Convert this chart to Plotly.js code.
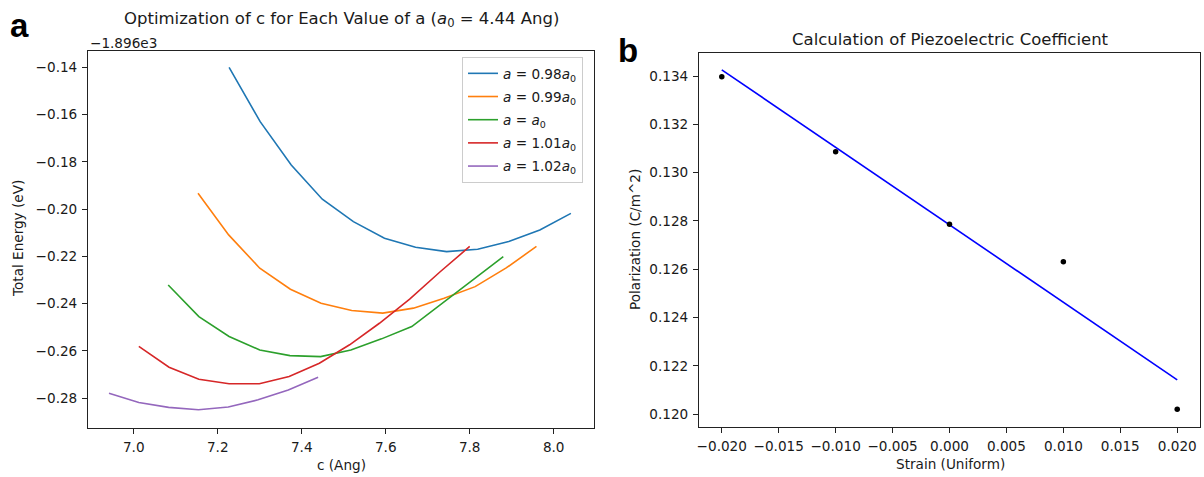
<!DOCTYPE html>
<html>
<head>
<meta charset="utf-8">
<script src="https://cdn.plot.ly/plotly-3.0.1.min.js"></script>
<style>html,body{margin:0;padding:0;background:#fff;}#chart{width:1204px;height:477px;}</style>
</head>
<body>
<div id="chart"></div>
<script>
// ---- Panel a: total energy vs c for each a ----
const energyOffset = -1896; // shown as "−1.896e3" axis offset
const c_098 = [7.227, 7.301, 7.375, 7.449, 7.523, 7.597, 7.671, 7.745, 7.819, 7.893, 7.967, 8.041];
const e_098 = [-1896.1400, -1896.1630, -1896.1813, -1896.1958, -1896.2053, -1896.2123, -1896.2161, -1896.2180, -1896.2170, -1896.2137, -1896.2088, -1896.2018];
const c_099 = [7.153, 7.226, 7.300, 7.373, 7.446, 7.519, 7.593, 7.666, 7.739, 7.813, 7.886, 7.959];
const e_099 = [-1896.1933, -1896.2109, -1896.2250, -1896.2339, -1896.2398, -1896.2429, -1896.2440, -1896.2419, -1896.2377, -1896.2328, -1896.2250, -1896.2158];
const c_100 = [7.082, 7.155, 7.227, 7.300, 7.372, 7.445, 7.517, 7.590, 7.662, 7.735, 7.807, 7.880];
const e_100 = [-1896.2321, -1896.2455, -1896.2539, -1896.2596, -1896.2620, -1896.2624, -1896.2596, -1896.2549, -1896.2497, -1896.2398, -1896.2300, -1896.2201];
const c_101 = [7.012, 7.084, 7.155, 7.227, 7.299, 7.370, 7.442, 7.514, 7.585, 7.657, 7.729, 7.800];
const e_101 = [-1896.2581, -1896.2669, -1896.2720, -1896.2739, -1896.2739, -1896.2708, -1896.2652, -1896.2574, -1896.2483, -1896.2381, -1896.2266, -1896.2158];
const c_102 = [6.941, 7.012, 7.083, 7.154, 7.225, 7.296, 7.368, 7.439];
const e_102 = [-1896.2779, -1896.2818, -1896.2839, -1896.2849, -1896.2837, -1896.2807, -1896.2765, -1896.2711];
const seriesLabels = [
  '<i>a</i> = 0.98<i>a</i><sub>0</sub>',
  '<i>a</i> = 0.99<i>a</i><sub>0</sub>',
  '<i>a</i> = <i>a</i><sub>0</sub>',
  '<i>a</i> = 1.01<i>a</i><sub>0</sub>',
  '<i>a</i> = 1.02<i>a</i><sub>0</sub>'
];
const xTicksA = [7.0, 7.2, 7.4, 7.6, 7.8, 8.0];
const yTicksA = [-0.28, -0.26, -0.24, -0.22, -0.20, -0.18, -0.16, -0.14];

// ---- Panel b: polarization vs strain ----
const strain = [-0.02, -0.01, 0.0, 0.01, 0.02];
const polarization = [0.13397, 0.13087, 0.12786, 0.12631, 0.12020];
const xTicksB = [-0.020, -0.015, -0.010, -0.005, 0.000, 0.005, 0.010, 0.015, 0.020];
const yTicksB = [0.120, 0.122, 0.124, 0.126, 0.128, 0.130, 0.132, 0.134];

// least-squares fit line
const n = strain.length;
const mx = strain.reduce((s, v) => s + v, 0) / n;
const my = polarization.reduce((s, v) => s + v, 0) / n;
let sxy = 0, sxx = 0;
for (let i = 0; i < n; i++) { sxy += (strain[i] - mx) * (polarization[i] - my); sxx += (strain[i] - mx) ** 2; }
const slope = sxy / sxx, intercept = my - slope * mx;
const fitX = [Math.min(...strain), Math.max(...strain)];
const fitY = fitX.map(x => intercept + slope * x);

const colors = ['#1f77b4', '#ff7f0e', '#2ca02c', '#d62728', '#9467bd'];
const cs = [c_098, c_099, c_100, c_101, c_102];
const es = [e_098, e_099, e_100, e_101, e_102];

const W = 1204, H = 477;
const px = v => v / W, py = v => 1 - v / H;
const FONT = 'DejaVu Sans';
const TXT = '#1a1a1a';

const traces = cs.map((c, i) => ({
  x: c, y: es[i].map(e => e - energyOffset),
  type: 'scatter', mode: 'lines', name: seriesLabels[i],
  line: {color: colors[i], width: 1.6},
  xaxis: 'x', yaxis: 'y', legendgroup: 'g' + i
}));
traces.push({
  x: fitX, y: fitY, type: 'scatter', mode: 'lines', showlegend: false,
  line: {color: '#0000ff', width: 1.6}, xaxis: 'x2', yaxis: 'y2'
});
traces.push({
  x: strain, y: polarization, type: 'scatter', mode: 'markers', showlegend: false,
  marker: {color: '#000', size: 5.5}, xaxis: 'x2', yaxis: 'y2'
});

const axBase = {
  showline: true, mirror: true, linecolor: '#222', linewidth: 1,
  ticks: 'outside', ticklen: 5, tickwidth: 1, tickcolor: '#222',
  showgrid: false, zeroline: false,
  tickfont: {family: FONT, size: 13.6, color: TXT}, ticklabelstandoff: 2
};

const layout = {
  width: W, height: H, margin: {l: 0, r: 0, t: 0, b: 0},
  paper_bgcolor: '#fff', plot_bgcolor: '#fff', showlegend: true,
  xaxis: Object.assign({}, axBase, {domain: [px(88), px(594)], range: [6.891, 8.096], tickvals: xTicksA, tickformat: '.1f', anchor: 'y'}),
  yaxis: Object.assign({}, axBase, {domain: [py(427.5), py(51)], range: [-0.2924, -0.1331], tickvals: yTicksA, tickformat: '.2f', anchor: 'x'}),
  xaxis2: Object.assign({}, axBase, {domain: [px(699), px(1200)], range: [-0.022, 0.022], tickvals: xTicksB, tickformat: '.3f', anchor: 'y2'}),
  yaxis2: Object.assign({}, axBase, {domain: [py(426.7), py(52.7)], range: [0.11948, 0.13497], tickvals: yTicksB, tickformat: '.3f', anchor: 'x2'}),
  legend: {
    x: px(583), y: py(57), xanchor: 'right', yanchor: 'top',
    bgcolor: 'rgba(255,255,255,0.8)', bordercolor: '#cccccc', borderwidth: 1,
    font: {family: FONT, size: 13.6, color: TXT}, itemwidth: 30, tracegroupgap: 2.5
  },
  annotations: [
    {text: '<b>a</b>', x: px(8), y: py(25.5), xref: 'paper', yref: 'paper', xanchor: 'left', yanchor: 'middle', showarrow: false, font: {family: 'Liberation Sans', size: 33, color: '#000'}},
    {text: '<b>b</b>', x: px(616), y: py(50), xref: 'paper', yref: 'paper', xanchor: 'left', yanchor: 'middle', showarrow: false, font: {family: 'Liberation Sans', size: 33, color: '#000'}},
    {text: 'Optimization of c for Each Value of a (<i>a</i><sub>0</sub> = 4.44 Ang)', x: px(341), y: py(19.5), xref: 'paper', yref: 'paper', xanchor: 'center', yanchor: 'middle', showarrow: false, font: {family: FONT, size: 16.5, color: TXT}},
    {text: 'Calculation of Piezoelectric Coefficient', x: px(950), y: py(39.8), xref: 'paper', yref: 'paper', xanchor: 'center', yanchor: 'middle', showarrow: false, font: {family: FONT, size: 16.5, color: TXT}},
    {text: '\u22121.896e3', x: px(88), y: py(43.5), xref: 'paper', yref: 'paper', xanchor: 'left', yanchor: 'middle', showarrow: false, font: {family: FONT, size: 13.6, color: TXT}},
    {text: 'c (Ang)', x: px(341), y: py(465), xref: 'paper', yref: 'paper', xanchor: 'center', yanchor: 'middle', showarrow: false, font: {family: FONT, size: 13.6, color: TXT}},
    {text: 'Strain (Uniform)', x: px(950), y: py(464), xref: 'paper', yref: 'paper', xanchor: 'center', yanchor: 'middle', showarrow: false, font: {family: FONT, size: 13.6, color: TXT}},
    {text: 'Total Energy (eV)', x: px(18), y: py(239), xref: 'paper', yref: 'paper', xanchor: 'center', yanchor: 'middle', textangle: -90, showarrow: false, font: {family: FONT, size: 13.6, color: TXT}},
    {text: 'Polarization (C/m^2)', x: px(634.5), y: py(239.5), xref: 'paper', yref: 'paper', xanchor: 'center', yanchor: 'middle', textangle: -90, showarrow: false, font: {family: FONT, size: 13.6, color: TXT}}
  ]
};

Plotly.newPlot('chart', traces, layout, {displayModeBar: false, staticPlot: true});
</script>
</body>
</html>
